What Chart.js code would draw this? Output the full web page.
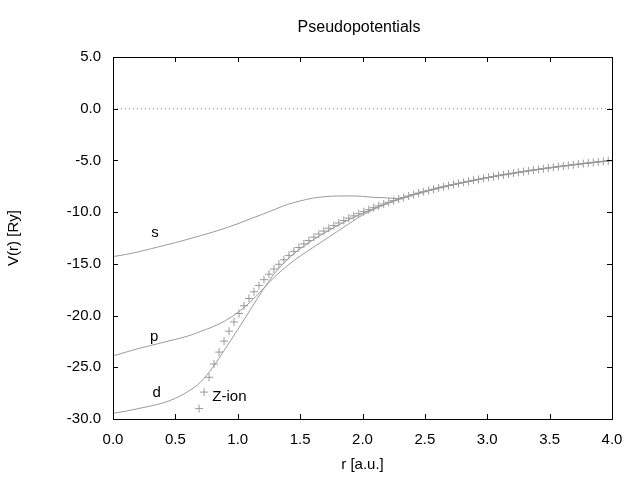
<!DOCTYPE html>
<html>
<head>
<meta charset="utf-8">
<script src="https://cdn.jsdelivr.net/npm/chart.js@4"></script>
<style>
  html, body { margin: 0; padding: 0; background: #fff; }
  #wrap { width: 640px; height: 480px; }
</style>
</head>
<body>
<div id="wrap"><canvas id="pseudo"></canvas></div>
<script>
// radial grid (a.u.) for the s, p, d curves
var rGrid = [0.0, 0.1, 0.2, 0.3, 0.4, 0.5, 0.6, 0.7, 0.8, 0.9,
    1.0, 1.1, 1.2, 1.3, 1.4, 1.5, 1.6, 1.7, 1.8, 1.9,
    2.0, 2.1, 2.2, 2.3, 2.4, 2.5, 2.6, 2.7, 2.8, 2.9,
    3.0, 3.1, 3.2, 3.3, 3.4, 3.5, 3.6, 3.7, 3.8, 3.9, 4.0];

var sPot = [-14.30, -14.10, -13.85, -13.55, -13.25, -12.95, -12.62, -12.28, -11.93, -11.55,
    -11.12, -10.65, -10.20, -9.72, -9.25, -8.92, -8.65, -8.50, -8.44, -8.43,
    -8.48, -8.58, -8.62, -8.70, -8.33, -8.00, -7.69, -7.41, -7.14, -6.90,
    -6.67, -6.45, -6.25, -6.06, -5.88, -5.71, -5.56, -5.41, -5.26, -5.13, -5.00];

var pPot = [-23.90, -23.55, -23.20, -22.90, -22.60, -22.30, -21.98, -21.55, -21.08, -20.50,
    -19.70, -18.70, -17.45, -16.20, -15.15, -14.25, -13.45, -12.65, -11.85, -11.05,
    -10.28, -9.68, -9.16, -8.70, -8.33, -8.00, -7.69, -7.41, -7.14, -6.90,
    -6.67, -6.45, -6.25, -6.06, -5.88, -5.71, -5.56, -5.41, -5.26, -5.13, -5.00];

var dPot = [-29.45, -29.25, -29.00, -28.75, -28.45, -28.00, -27.35, -26.45, -25.00, -23.20,
    -21.35, -19.45, -17.55, -15.85, -14.55, -13.55, -12.72, -11.98, -11.30, -10.68,
    -10.12, -9.60, -9.12, -8.70, -8.33, -8.00, -7.69, -7.41, -7.14, -6.90,
    -6.67, -6.45, -6.25, -6.06, -5.88, -5.71, -5.56, -5.41, -5.26, -5.13, -5.00];

// Z-ion points
var zionR = [0.69, 0.73, 0.77, 0.81, 0.85, 0.89, 0.93, 0.97, 1.01, 1.05,
    1.09, 1.13, 1.17, 1.21, 1.25, 1.29, 1.33, 1.37, 1.41, 1.45,
    1.49, 1.53, 1.57, 1.61, 1.65, 1.69, 1.73, 1.77, 1.81, 1.85,
    1.89, 1.93, 1.97, 2.01, 2.05, 2.09, 2.13, 2.17, 2.21, 2.25,
    2.29, 2.33, 2.37, 2.41, 2.45, 2.49, 2.53, 2.57, 2.61, 2.65,
    2.69, 2.73, 2.77, 2.81, 2.85, 2.89, 2.93, 2.97, 3.01, 3.05,
    3.09, 3.13, 3.17, 3.21, 3.25, 3.29, 3.33, 3.37, 3.41, 3.45,
    3.49, 3.53, 3.57, 3.61, 3.65, 3.69, 3.73, 3.77, 3.81, 3.85,
    3.89, 3.93, 3.97];
var zionV = [-28.99, -27.40, -25.97, -24.69, -23.53, -22.47, -21.51, -20.62, -19.80, -19.05,
    -18.35, -17.70, -17.09, -16.53, -16.00, -15.50, -15.04, -14.60, -14.18, -13.79,
    -13.42, -13.07, -12.74, -12.42, -12.12, -11.83, -11.56, -11.30, -11.05, -10.81,
    -10.58, -10.36, -10.15, -9.95, -9.76, -9.57, -9.39, -9.22, -9.05, -8.89,
    -8.73, -8.58, -8.44, -8.30, -8.16, -8.03, -7.91, -7.78, -7.66, -7.55,
    -7.43, -7.33, -7.22, -7.12, -7.02, -6.92, -6.83, -6.73, -6.64, -6.56,
    -6.47, -6.39, -6.31, -6.23, -6.15, -6.08, -6.01, -5.93, -5.87, -5.80,
    -5.73, -5.67, -5.60, -5.54, -5.48, -5.42, -5.36, -5.31, -5.25, -5.19,
    -5.14, -5.09, -5.04];

var zeroR = [0, 4];
var zeroV = [0, 0];

// curve labels: [text, r, V]
var curveLabels = [['s', 0.33, -12.0], ['p', 0.32, -22.1], ['d', 0.34, -27.5], ['Z-ion', 0.82, -27.9]];

var xTicks = [0, 0.5, 1, 1.5, 2, 2.5, 3, 3.5, 4];
var yTicks = [5, 0, -5, -10, -15, -20, -25, -30];

var FONT = '"Liberation Sans", Arial, sans-serif';
var GRAY = '#9a9a9a';

function pts(xs, ys) {
    return xs.map(function(x, i) { return { x: x, y: ys[i] }; });
}

function lineSet(label, data) {
    return {
        label: label,
        data: data,
        borderColor: GRAY,
        borderWidth: 1,
        pointRadius: 0,
        fill: false,
        cubicInterpolationMode: 'monotone'
    };
}

// frame, inward ticks, title, curve labels
var gnuplotLook = {
    id: 'gnuplotLook',
    afterDatasetsDraw: function(chart) {
        var ctx = chart.ctx;
        var a = chart.chartArea;
        var xs = chart.scales.x, ys = chart.scales.y;
        ctx.save();
        ctx.strokeStyle = '#000';
        ctx.lineWidth = 1;
        ctx.strokeRect(Math.round(a.left) + 0.5, Math.round(a.top) + 0.5,
            Math.round(a.right - a.left), Math.round(a.bottom - a.top));
        ctx.beginPath();
        xTicks.forEach(function(v) {
            var px = Math.round(xs.getPixelForValue(v)) + 0.5;
            ctx.moveTo(px, a.bottom); ctx.lineTo(px, a.bottom - 5);
            ctx.moveTo(px, a.top); ctx.lineTo(px, a.top + 5);
        });
        yTicks.forEach(function(v) {
            var py = Math.round(ys.getPixelForValue(v)) + 0.5;
            ctx.moveTo(a.left, py); ctx.lineTo(a.left + 5, py);
            ctx.moveTo(a.right, py); ctx.lineTo(a.right - 5, py);
        });
        ctx.stroke();

        ctx.fillStyle = '#000';
        ctx.font = '16px ' + FONT;
        ctx.textAlign = 'center';
        ctx.textBaseline = 'middle';
        ctx.fillText('Pseudopotentials', 359, 28);

        ctx.font = '15px ' + FONT;
        ctx.textAlign = 'left';
        curveLabels.forEach(function(l) {
            ctx.fillText(l[0], xs.getPixelForValue(l[1]) - 3, ys.getPixelForValue(l[2]));
        });
        ctx.restore();
    }
};

new Chart(document.getElementById('pseudo').getContext('2d'), {
    type: 'line',
    data: {
        datasets: [
            {
                label: 'zero',
                data: pts(zeroR, zeroV),
                borderColor: '#888',
                borderWidth: 1,
                borderDash: [1, 3],
                pointRadius: 0
            },
            lineSet('s', pts(rGrid, sPot)),
            lineSet('p', pts(rGrid, pPot)),
            lineSet('d', pts(rGrid, dPot)),
            {
                label: 'Z-ion',
                data: pts(zionR, zionV),
                showLine: false,
                pointStyle: 'cross',
                pointRadius: 4,
                borderColor: GRAY,
                borderWidth: 1
            }
        ]
    },
    options: {
        responsive: true,
        maintainAspectRatio: false,
        animation: false,
        layout: { padding: { left: 0, right: 28, top: 57, bottom: 0 } },
        plugins: {
            legend: { display: false },
            tooltip: { enabled: false }
        },
        scales: {
            x: {
                type: 'linear',
                min: 0,
                max: 4,
                grid: { display: false, drawTicks: false },
                border: { display: false },
                afterBuildTicks: function(s) { s.ticks = xTicks.map(function(v) { return { value: v }; }); },
                afterFit: function(s) { s.height = 61; },
                ticks: {
                    color: '#000',
                    padding: 12,
                    maxRotation: 0,
                    font: { family: FONT, size: 15 },
                    callback: function(v) { return v.toFixed(1); }
                },
                title: {
                    display: true,
                    text: 'r [a.u.]',
                    color: '#000',
                    font: { family: FONT, size: 15 },
                    padding: { top: 0, bottom: 6 }
                }
            },
            y: {
                type: 'linear',
                min: -30,
                max: 5,
                grid: { display: false, drawTicks: false },
                border: { display: false },
                afterBuildTicks: function(s) { s.ticks = yTicks.map(function(v) { return { value: v }; }); },
                afterFit: function(s) { s.width = 113; },
                ticks: {
                    color: '#000',
                    padding: 12,
                    font: { family: FONT, size: 15 },
                    callback: function(v) { return v.toFixed(1); }
                },
                title: {
                    display: true,
                    text: 'V(r) [Ry]',
                    color: '#000',
                    font: { family: FONT, size: 15 },
                    padding: { top: 5, bottom: 0 }
                }
            }
        }
    },
    plugins: [gnuplotLook]
});
</script>
</body>
</html>
